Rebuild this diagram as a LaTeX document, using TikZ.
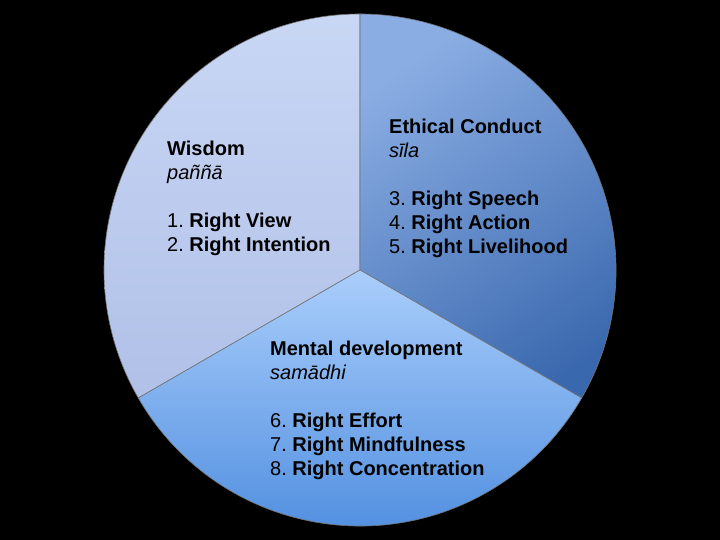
\documentclass[tikz,border=0pt]{standalone}
\usepackage{fontspec}
\setmainfont{Liberation Sans}
\usepackage{tikz}
\frenchspacing
\definecolor{wisdomtop}{HTML}{C9D7F5}
\definecolor{wisdombot}{HTML}{B0C0E7}
\definecolor{ethictop}{HTML}{8AADE3}
\definecolor{ethicbot}{HTML}{3A68AE}
\definecolor{mentaltop}{HTML}{AACEFB}
\definecolor{mentalbot}{HTML}{4788DD}

\begin{document}
\begin{tikzpicture}[
  x=1bp, y=1bp,
  every node/.style={font=\fontsize{20bp}{24bp}\selectfont},
  sector/.style={draw=black!55, line width=0.6bp},
  pathtext/.style={anchor=base west, align=left, inner sep=0pt}
]
\useasboundingbox (0,0) rectangle (720,540);

%% Background
\fill[black] (0,0) rectangle (720,540);
\coordinate (hub) at (360,270);

%% Wisdom sector
\shade[sector, top color=wisdomtop, bottom color=wisdombot]
  (hub) -- ++(90:256) arc[start angle=90, end angle=210, radius=256] -- cycle;

%% Ethical conduct sector
\shade[sector, top color=ethictop, bottom color=ethicbot, shading angle=35]
  (hub) -- ++(-30:256) arc[start angle=-30, end angle=90, radius=256] -- cycle;

%% Mental development sector
\shade[sector, top color=mentaltop, bottom color=mentalbot]
  (hub) -- ++(210:256) arc[start angle=210, end angle=330, radius=256] -- cycle;

%% Texts (base = baseline of the last line)
\node[pathtext] (wisdom) at (167,288)
  {\textbf{Wisdom}\\
   \textit{paññā}\\[24bp]
   1. \textbf{Right View}\\
   2. \textbf{Right Intention}};

\node[pathtext] (ethics) at (389,286)
  {\textbf{Ethical Conduct}\\
   \textit{sīla}\\[24bp]
   3. \textbf{Right Speech}\\
   4. \textbf{Right Action}\\
   5. \textbf{Right Livelihood}};

\node[pathtext] (mental) at (270,64)
  {\textbf{Mental development}\\
   \textit{samādhi}\\[24bp]
   6. \textbf{Right Effort}\\
   7. \textbf{Right Mindfulness}\\
   8. \textbf{Right Concentration}};

\end{tikzpicture}
\end{document}
